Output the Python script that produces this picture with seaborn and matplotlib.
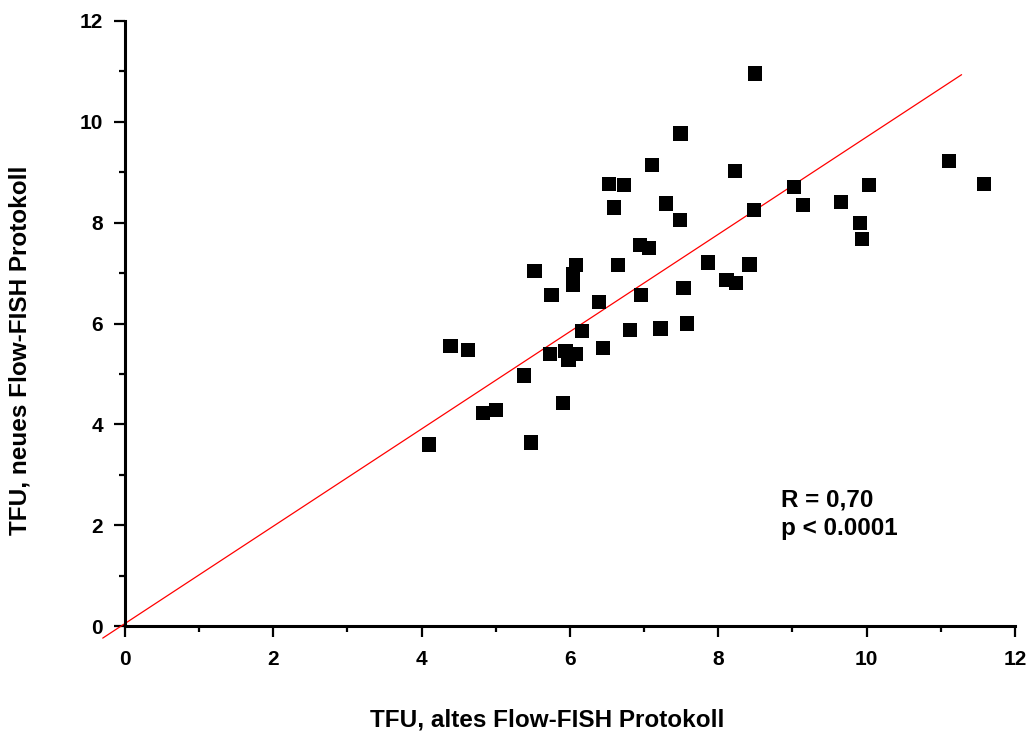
import numpy as np
import pandas as pd
import matplotlib
matplotlib.use("Agg")
import matplotlib.pyplot as plt
import seaborn as sns
from matplotlib.ticker import MultipleLocator

# TFU values per sample: old protocol (x) vs. new protocol (y)
tfu_alt = [4.10, 4.39, 4.62, 4.83, 5.00, 5.38, 5.47, 5.52, 5.75, 5.73,
           5.91, 5.94, 5.98, 6.08, 6.04, 6.04, 6.08, 6.16, 6.39, 6.45,
           6.53, 6.59, 6.65, 6.73, 6.81, 6.94, 6.96, 7.07, 7.11, 7.22,
           7.29, 7.48, 7.49, 7.53, 7.58, 7.86, 8.11, 8.23, 8.24, 8.42,
           8.48, 8.49, 9.02, 9.14, 9.65, 9.91, 9.94, 10.03, 11.11, 11.58]
tfu_neu = [3.60, 5.55, 5.47, 4.22, 4.28, 4.97, 3.64, 7.04, 6.56, 5.40,
           4.42, 5.45, 5.28, 5.39, 6.77, 6.98, 7.16, 5.85, 6.42, 5.52,
           8.77, 8.30, 7.16, 8.74, 5.87, 7.55, 6.56, 7.50, 9.15, 5.90,
           8.38, 8.05, 9.77, 6.70, 6.00, 7.21, 6.86, 9.02, 6.80, 7.17,
           8.25, 10.96, 8.71, 8.35, 8.41, 7.99, 7.67, 8.74, 9.23, 8.77]

# Fitted line and its drawn x-range
fit_slope = 0.965
fit_intercept = 0.05
fit_range = [-0.30, 11.28]

stat_text = ["R = 0,70", "p < 0.0001"]

df = pd.DataFrame({"alt": tfu_alt, "neu": tfu_neu})

sns.set_theme(style="ticks")
plt.rcParams["font.family"] = ["Liberation Sans", "DejaVu Sans"]
plt.rcParams["font.weight"] = "bold"

fig = plt.figure(figsize=(10.27, 7.34), dpi=100)
ax = fig.add_axes([0.1217, 0.1471, 0.8666, 0.8243])

sns.scatterplot(data=df, x="alt", y="neu", marker="s", s=105,
                color="black", edgecolor="none", linewidth=0, ax=ax,
                zorder=3, clip_on=False)

lx = np.array(fit_range)
ax.plot(lx, fit_slope * lx + fit_intercept, color="red", lw=0.9,
        clip_on=False, zorder=2)

ax.set_xlim(0, 12)
ax.set_ylim(0, 12)
ax.xaxis.set_major_locator(MultipleLocator(2))
ax.xaxis.set_minor_locator(MultipleLocator(1))
ax.yaxis.set_major_locator(MultipleLocator(2))
ax.yaxis.set_minor_locator(MultipleLocator(1))

sns.despine(ax=ax)
for side in ("left", "bottom"):
    ax.spines[side].set_linewidth(2.2)
    ax.spines[side].set_color("black")
    ax.spines[side].set_capstyle("projecting")

ax.tick_params(axis="both", which="major", direction="out", length=8,
               width=1.6, color="black", labelsize=15, labelcolor="black")
ax.tick_params(axis="both", which="minor", direction="out", length=4.5,
               width=1.6, color="black")
ax.tick_params(axis="x", which="major", pad=9)
ax.tick_params(axis="y", which="major", pad=8)
for lab in ax.get_xticklabels() + ax.get_yticklabels():
    lab.set_fontweight("bold")

ax.set_xlabel("TFU, altes Flow-FISH Protokoll", fontsize=17.5,
              fontweight="bold", color="black")
ax.set_ylabel("TFU, neues Flow-FISH Protokoll", fontsize=17.5,
              fontweight="bold", color="black")
ax.xaxis.set_label_coords(0.474, -0.137)
ax.yaxis.set_label_coords(-0.105, 0.456)

ax.text(8.845, 2.38, stat_text[0], fontsize=17.5, fontweight="bold",
        color="black", va="baseline", ha="left")
ax.text(8.845, 1.80, stat_text[1], fontsize=17.5, fontweight="bold",
        color="black", va="baseline", ha="left")

fig.savefig("out.png", dpi=100)
